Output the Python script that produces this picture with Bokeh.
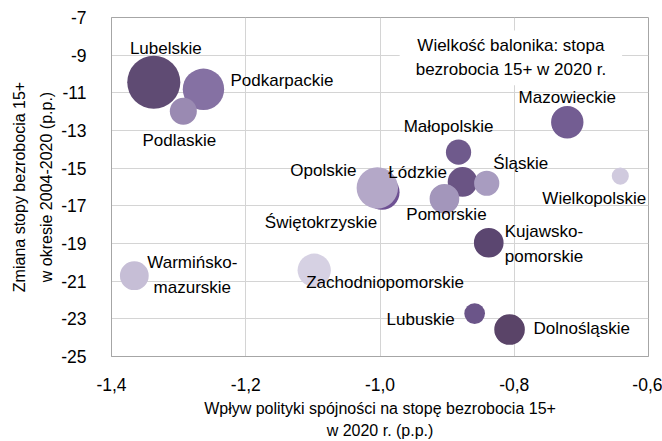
from bokeh.plotting import figure
from bokeh.models import ColumnDataSource, FixedTicker, Label, Range1d
from bokeh.embed import file_html
from bokeh.resources import INLINE

# ---------------- data ----------------
regions = ["Lubelskie", "Podkarpackie", "Świętokrzyskie", "Łódzkie", "Małopolskie",
           "Mazowieckie", "Kujawsko-pomorskie", "Dolnośląskie", "Lubuskie", "Podlaskie",
           "Opolskie", "Pomorskie", "Śląskie", "Warmińsko-mazurskie",
           "Zachodniopomorskie", "Wielkopolskie"]
# impact of cohesion policy on unemployment rate 15+ in 2020 (p.p.)
impact = [-1.337, -1.263, -0.997, -0.877, -0.883,
          -0.721, -0.838, -0.807, -0.859, -1.293,
          -1.004, -0.904, -0.841, -1.366,
          -1.098, -0.642]
# change of unemployment rate 15+ 2004-2020 (p.p.)
change = [-10.44, -10.81, -16.28, -15.73, -14.15,
          -12.56, -18.96, -23.57, -22.72, -11.98,
          -16.05, -16.63, -15.80, -20.71,
          -20.42, -15.42]
# unemployment rate 15+ in 2020 (%) -> bubble size
rate2020 = [5.9, 4.6, 3.9, 3.3, 2.8,
            3.6, 3.3, 3.4, 2.3, 3.0,
            4.6, 3.3, 2.8, 3.2,
            3.7, 1.9]

x_ticks = [-1.4, -1.2, -1.0, -0.8, -0.6]
x_tick_labels = ["-1,4", "-1,2", "-1,0", "-0,8", "-0,6"]
y_ticks = [-25, -23, -21, -19, -17, -15, -13, -11, -9, -7]
y_tick_labels = ["-25", "-23", "-21", "-19", "-17", "-15", "-13", "-11", "-9", "-7"]

x_title = "Wpływ polityki spójności na stopę bezrobocia 15+\nw 2020 r. (p.p.)"
y_title = "Zmiana stopy bezrobocia 15+\nw okresie 2004-2020 (p.p.)"
note = "Wielkość balonika: stopa\nbezrobocia 15+ w 2020 r."

# ---------------- styles ----------------
colors = ["#5f4b73", "#8571a3", "#6e5193", "#6a5484", "#6f5a8c",
          "#735d92", "#5b4670", "#5a4468", "#6b5589", "#9a8ab2",
          "#b4a8c8", "#a396bb", "#a89cc0", "#c6bed6",
          "#d6d1e3", "#d0cade"]
PX_PER_PCT = 9.0
# label offsets (screen px, +dy = down) and alignment
lab_dx = [12, 27, -61, -45, -10, 0, 16, 24, -20, -4, -54, 2, 34, 58, -8, -26]
lab_dy = [-34, -9, 30, -9, -26, -25, 1, -1, 6, 29, -17, 16, -20, -1, 12, 22]
lab_align = ["center", "left", "center", "center", "center", "center", "left", "left",
             "right", "center", "center", "center", "center", "center", "left", "center"]

FONT = "Liberation Sans"
GRID = "#d4d4d4"
FRAME = "#a6a6a6"

p = figure(width=662, height=441, output_backend="svg", toolbar_location=None,
           x_range=Range1d(x_ticks[0], x_ticks[-1]), y_range=Range1d(y_ticks[0], y_ticks[-1]),
           min_border_left=111, min_border_right=14, min_border_top=17, min_border_bottom=84)
p.background_fill_color = "white"
p.border_fill_color = "white"
p.outline_line_color = FRAME
p.outline_line_width = 1

p.xaxis.ticker = FixedTicker(ticks=x_ticks)
p.yaxis.ticker = FixedTicker(ticks=y_ticks)
p.xaxis.major_label_overrides = {t: l for t, l in zip(x_ticks, x_tick_labels)}
p.yaxis.major_label_overrides = {t: l for t, l in zip(y_ticks, y_tick_labels)}
for ax in (p.xaxis, p.yaxis):
    ax.major_tick_line_color = None
    ax.minor_tick_line_color = None
    ax.axis_line_color = FRAME
    ax.major_label_text_font = FONT
    ax.major_label_text_font_size = "17.5px"
    ax.major_label_text_color = "#000000"
    ax.axis_label_text_font = FONT
    ax.axis_label_text_font_style = "normal"
    ax.axis_label_text_color = "#000000"
    ax.axis_label_text_font_size = "16px"
p.xaxis.axis_label = x_title
p.yaxis.axis_label = y_title
p.xaxis.axis_label_text_line_height = 1.3
p.yaxis.axis_label_text_line_height = 1.6
p.xaxis.major_label_standoff = 15
p.xaxis.axis_label_standoff = 6
p.yaxis.major_label_standoff = 19
p.yaxis.axis_label_standoff = 3

p.xgrid.ticker = FixedTicker(ticks=x_ticks)
p.ygrid.ticker = FixedTicker(ticks=y_ticks)
p.grid.grid_line_color = GRID
p.grid.grid_line_width = 1

src = ColumnDataSource(dict(x=impact, y=change, size=[r * PX_PER_PCT for r in rate2020],
                            color=colors, name=regions))
p.scatter(x="x", y="y", size="size", fill_color="color", line_color=None, source=src)

for i, name in enumerate(regions):
    p.add_layout(Label(x=impact[i], y=change[i], text=name.replace("-", "-\n"),
                       x_offset=lab_dx[i], y_offset=-lab_dy[i],
                       text_align=lab_align[i], text_baseline="middle", text_font=FONT,
                       text_font_size="17px", text_color="#000000", text_line_height=1.3))

p.add_layout(Label(x=-0.805, y=-9.14, text=note, text_align="center", text_baseline="middle",
                   text_font=FONT, text_font_size="17px", text_color="#000000",
                   text_line_height=1.25, background_fill_color="white",
                   padding=dict(x=16, y=6)))

open("out.html", "w").write(file_html(p, INLINE))
